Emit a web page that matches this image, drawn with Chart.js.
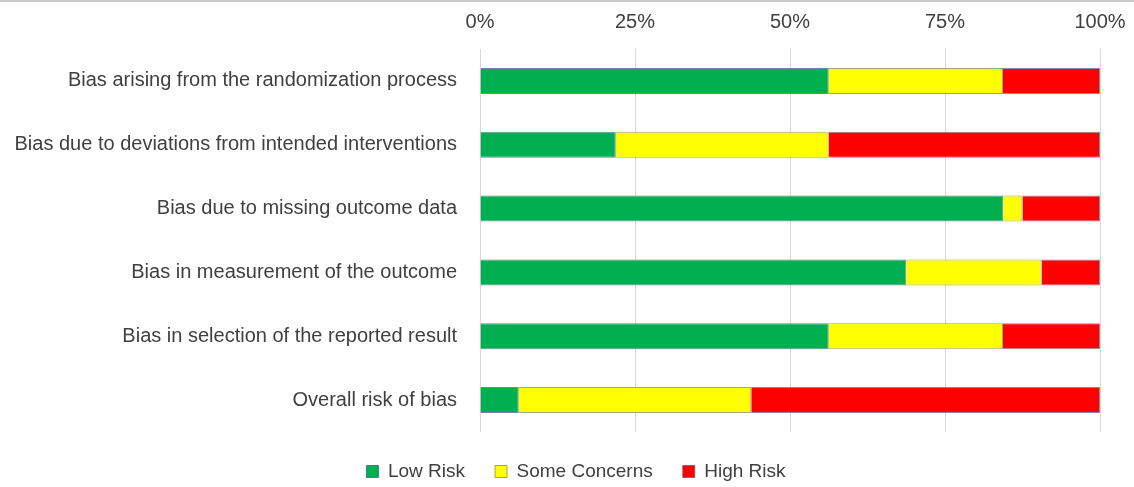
<!DOCTYPE html>
<html>
<head>
<meta charset="utf-8">
<script src="https://cdn.jsdelivr.net/npm/chart.js@4"></script>
<style>
  html, body { margin: 0; padding: 0; background: #ffffff; }
  .wrap { position: relative; width: 1134px; height: 487px; }
  .topline { position: absolute; left: 0; top: 0; width: 100%; height: 2px; background: #c9c9c9; }
</style>
</head>
<body>
<div class="wrap">
  <canvas id="robChart" width="1134" height="487"></canvas>
  <div class="topline"></div>
</div>
<script>
// Data for the chart (percent of studies)
const domains = [
    'Bias arising from the randomization process',
    'Bias due to deviations from intended interventions',
    'Bias due to missing outcome data',
    'Bias in measurement of the outcome',
    'Bias in selection of the reported result',
    'Overall risk of bias'
];
const lowRisk = [56.25, 21.9, 84.4, 68.75, 56.25, 6.25];
const someConcerns = [28.1, 34.35, 3.1, 21.85, 28.1, 37.5];
const highRisk = [15.65, 43.75, 12.5, 9.4, 15.65, 56.25];
const xTicks = [0, 25, 50, 75, 100];

const textColor = '#404040';
const fontFamily = "'Liberation Sans', Arial, sans-serif";

// legend sits centred under the whole figure, not under the plot area
const legendShift = {
    id: 'legendShift',
    afterLayout(chart) {
        chart.legend.left += 26;
        chart.legend.right += 26;
    }
};

new Chart(document.getElementById('robChart').getContext('2d'), {
    type: 'bar',
    data: {
        labels: domains,
        datasets: [
            { label: 'Low Risk', data: lowRisk, backgroundColor: '#00b050', borderColor: 'rgba(40,90,110,0.7)' },
            { label: 'Some Concerns', data: someConcerns, backgroundColor: '#ffff00', borderColor: 'rgba(120,130,60,0.7)' },
            { label: 'High Risk', data: highRisk, backgroundColor: '#ff0000', borderColor: 'rgba(110,80,110,0.7)' }
        ]
    },
    options: {
        indexAxis: 'y',
        responsive: false,
        animation: false,
        layout: { padding: { left: 0, right: 34, top: 0, bottom: -4 } },
        datasets: {
            bar: { borderWidth: 1, categoryPercentage: 1, barPercentage: 0.407 }
        },
        plugins: {
            tooltip: { enabled: false },
            legend: {
                position: 'bottom',
                labels: {
                    color: textColor,
                    font: { family: fontFamily, size: 19 },
                    boxWidth: 12,
                    boxHeight: 12,
                    padding: 30
                }
            }
        },
        scales: {
            x: {
                position: 'top',
                stacked: true,
                min: 0,
                max: 100,
                afterBuildTicks: (scale) => { scale.ticks = xTicks.map(v => ({ value: v })); },
                afterFit: (scale) => {
                    scale.height = 49;
                    scale.paddingLeft = 0;
                    scale.paddingRight = 0;
                },
                ticks: {
                    color: textColor,
                    font: { family: fontFamily, size: 20 },
                    padding: 15,
                    callback: (v) => v + '%'
                },
                grid: { color: '#d9d9d9', drawTicks: false },
                border: { display: false }
            },
            y: {
                stacked: true,
                afterFit: (scale) => { scale.width = 480; },
                ticks: {
                    color: textColor,
                    font: { family: fontFamily, size: 20 },
                    padding: 15
                },
                grid: { display: false },
                border: { display: false }
            }
        }
    },
    plugins: [legendShift]
});
</script>
</body>
</html>
